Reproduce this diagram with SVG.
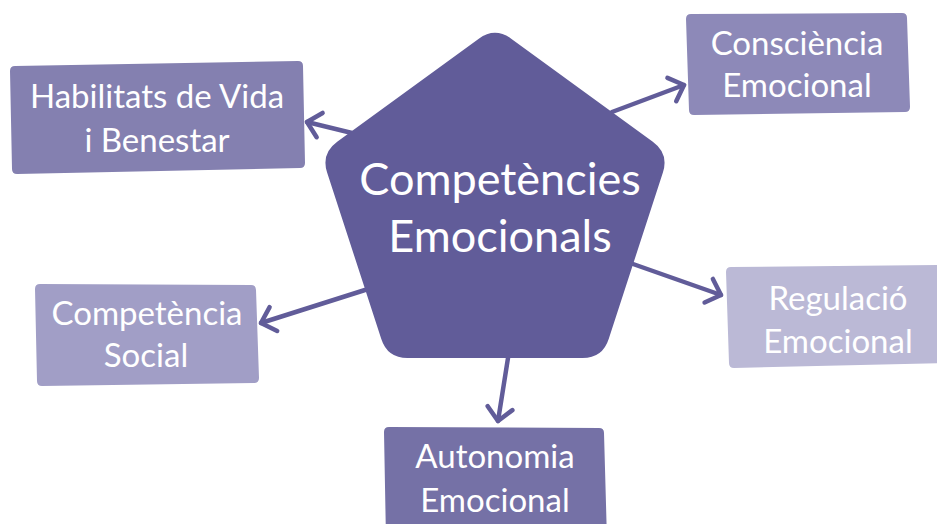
<svg xmlns="http://www.w3.org/2000/svg" width="937" height="524" viewBox="0 0 937 524">
<defs>
<style>
.lbl{font-family:Lato,"Open Sans","Liberation Sans",sans-serif;fill:#ffffff;text-anchor:middle}
.sm{font-size:33px}
.big{font-size:45px}
.conn{stroke:#615c99;stroke-width:4.5;fill:none;stroke-linecap:round}
</style>
<marker id="arr" markerUnits="userSpaceOnUse" markerWidth="40" markerHeight="40" refX="0" refY="0" orient="auto" overflow="visible">
<path d="M-13,-12.5 L0,0 L-13,12.5" fill="none" stroke="#615c99" stroke-width="4.5" stroke-linecap="round" stroke-linejoin="round"/>
</marker>
</defs>
<rect width="937" height="524" fill="#ffffff"/>
<g id="connectors">
<line class="conn" x1="352" y1="133" x2="307" y2="122" marker-end="url(#arr)"/>
<line class="conn" x1="612" y1="112" x2="684" y2="85" marker-end="url(#arr)"/>
<line class="conn" x1="633" y1="264" x2="721" y2="295" marker-end="url(#arr)"/>
<line class="conn" x1="365" y1="290" x2="261" y2="323" marker-end="url(#arr)"/>
<line class="conn" x1="508" y1="358" x2="498" y2="421" marker-end="url(#arr)"/>
</g>
<g id="center">
<path d="M478.8,38.7 Q495,27 511.2,38.7 L652.8,141.8 Q669,153.5 662.9,172.5 L608.7,339 Q602.6,358 582.6,358 L407.4,358 Q387.4,358 381.3,339 L327.1,172.5 Q321,153.5 337.2,141.8 Z" fill="#615c99"/>
<text class="lbl big" x="500" y="195">Competències</text>
<text class="lbl big" x="500" y="252">Emocionals</text>
</g>
<g id="habilitats">
<path d="M15,66 L298,61 Q303,61 303,66 L305,163 Q305,168 300,168 L17,174 Q12,174 12,169 L10,71 Q10,66 15,66 Z" fill="#8480b0"/>
<text class="lbl sm" x="157" y="108">Habilitats de Vida</text>
<text class="lbl sm" x="157" y="152">i Benestar</text>
</g>
<g id="consciencia">
<path d="M691,14 L902,13 Q907,13 907,18 L910,107 Q910,112 905,112 L694,115 Q689,115 689,110 L686,19 Q686,14 691,14 Z" fill="#8d89b8"/>
<text class="lbl sm" x="797" y="55">Consciència</text>
<text class="lbl sm" x="797" y="97">Emocional</text>
</g>
<g id="regulacio">
<path d="M731,267 L945,265 L945,363 L734,368 Q729,368 729,363 L726,272 Q726,267 731,267 Z" fill="#bbb9d6"/>
<text class="lbl sm" x="838" y="310">Regulació</text>
<text class="lbl sm" x="838" y="353">Emocional</text>
</g>
<g id="social">
<path d="M40,284 L251,285 Q256,285 256,290 L259,378 Q259,383 254,383 L42,386 Q37,386 37,381 L35,289 Q35,284 40,284 Z" fill="#a19ec6"/>
<text class="lbl sm" x="147" y="325">Competència</text>
<text class="lbl sm" x="146" y="367">Social</text>
</g>
<g id="autonomia">
<path d="M389,427 L599,428 Q604,428 604,433 L607,540 L386,540 L384,432 Q384,427 389,427 Z" fill="#7571a6"/>
<text class="lbl sm" x="495" y="468">Autonomia</text>
<text class="lbl sm" x="495" y="512">Emocional</text>
</g>
</svg>
